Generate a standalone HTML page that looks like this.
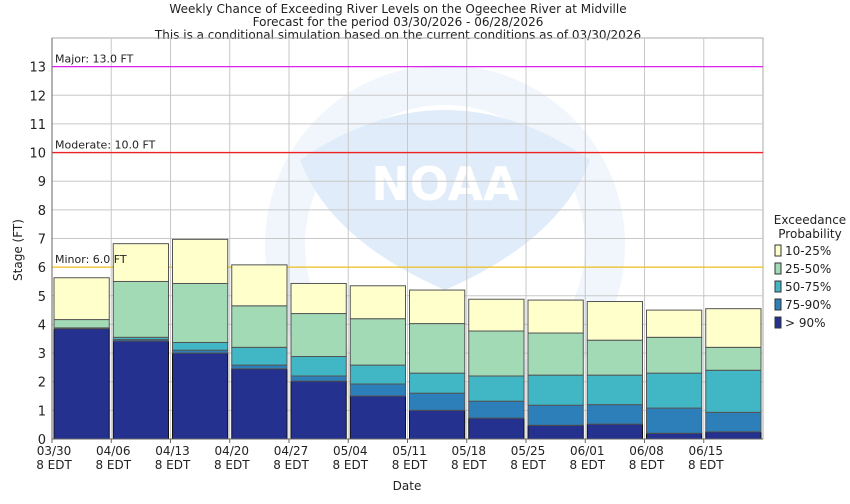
<!DOCTYPE html>
<html><head><meta charset="utf-8"><style>
body{margin:0;background:#fff;font-family:"DejaVu Sans","Liberation Sans",sans-serif}
svg text{font-family:"DejaVu Sans","Liberation Sans",sans-serif;fill:#222}
</style></head><body>
<svg id="c" width="850" height="500">
<g font-size="12" text-anchor="middle">
<text x="398" y="13">Weekly Chance of Exceeding River Levels on the Ogeechee River at Midville</text>
<text x="398" y="26">Forecast for the period 03/30/2026 - 06/28/2026</text>
<text x="398" y="39">This is a conditional simulation based on the current conditions as of 03/30/2026</text>
</g>
<g id="wm" opacity="0.35">
<circle cx="445" cy="245" r="160" fill="none" stroke="#d6e6f7" stroke-width="40"/>
<path d="M300,160 Q445,60 590,160 Q560,240 445,290 Q330,240 300,160Z" fill="#a9c9ef"/>
<text x="445" y="200" text-anchor="middle" font-size="46" font-weight="bold" style="fill:#fff">NOAA</text>
</g>
<g id="grid"></g><g id="bars"></g><g id="axes"></g>
<text transform="translate(22,250) rotate(-90)" text-anchor="middle" font-size="12">Stage (FT)</text>
<text x="407" y="490" text-anchor="middle" font-size="12">Date</text>
<g id="legend" font-size="12"></g>
</svg>
<script>
const dates=["03/30","04/06","04/13","04/20","04/27","05/04","05/11","05/18","05/25","06/01","06/08","06/15"];
const p90=[3.85,3.42,3.0,2.45,2.02,1.5,1.0,0.73,0.48,0.52,0.2,0.25];
const p75=[3.87,3.47,3.1,2.58,2.2,1.92,1.6,1.32,1.18,1.2,1.08,0.93];
const p50=[3.88,3.55,3.37,3.2,2.88,2.58,2.3,2.2,2.23,2.23,2.3,2.4];
const p25=[4.17,5.5,5.43,4.65,4.38,4.2,4.03,3.77,3.7,3.45,3.55,3.2];
const p10=[5.63,6.82,6.97,6.08,5.43,5.35,5.2,4.88,4.85,4.8,4.5,4.55];
const yTicks=[0,1,2,3,4,5,6,7,8,9,10,11,12,13];
const floods=[{v:13,l:"Major: 13.0 FT",c:"#dd22ee"},{v:10,l:"Moderate: 10.0 FT",c:"#ee2222"},{v:6,l:"Minor: 6.0 FT",c:"#f0c020"}];
const NS="http://www.w3.org/2000/svg";
const X0=52,X1=763,Y0=439,YT=38,step=59.25;
const y=v=>Y0-v*(Y0-YT)/14;
const x=i=>X0+i*step;
function mk(t,a,p){const e=document.createElementNS(NS,t);for(const k in a)e.setAttribute(k,a[k]);p.appendChild(e);return e;}
const G=document.getElementById('grid'),B=document.getElementById('bars'),A=document.getElementById('axes'),L=document.getElementById('legend');
mk('rect',{x:X0,y:YT,width:X1-X0,height:Y0-YT,fill:'none',stroke:'#aaa'},G);
yTicks.forEach(t=>{
 const l=mk('line',{x1:X0,x2:X1,y1:y(t),y2:y(t),stroke:'#c8c8c8'},G);
 
 
 const tx=mk('text',{x:X0-6,y:y(t)+5,'text-anchor':'end','font-size':13},A);tx.textContent=t;
 
 
});
dates.forEach((d,i)=>{
 mk('line',{x1:x(i),x2:x(i),y1:YT,y2:Y0,stroke:'#c8c8c8'},G);
 mk('line',{x1:x(i),x2:x(i),y1:Y0,y2:Y0+4,stroke:'#666'},A);
 const t=mk('text',{x:x(i)+2,y:Y0+16,'text-anchor':'middle','font-size':12},A);t.textContent=d;
 
 
 const t2=mk('text',{x:x(i)+2,y:Y0+30,'text-anchor':'middle','font-size':12},A);t2.textContent="8 EDT";
 
 
});
mk('line',{x1:X0,x2:X1,y1:Y0,y2:Y0,stroke:'#666'},A);
mk('line',{x1:X0,x2:X0,y1:YT,y2:Y0,stroke:'#666'},A);
floods.forEach(f=>{
 const l=mk('line',{x1:X0,x2:X1,y1:y(f.v),y2:y(f.v),stroke:f.c,'stroke-width':1.3},G);
 
 
 const t=mk('text',{x:X0+3,y:y(f.v)-4,'font-size':11},A);t.textContent=f.l;
 
 
});
const cols=["#25318f","#2c7fb8","#41b6c4","#a1dab4","#ffffcc"];
const series=[p90,p75,p50,p25,p10];
dates.forEach((d,i)=>{
 let prev=0;
 series.forEach((s,k)=>{
  const top=s[i];
  const r=mk('rect',{x:x(i)+2,y:y(top),width:step-4,height:Math.max(0,y(prev)-y(top)),fill:cols[k],stroke:k==0?'#111':'#555','stroke-width':1},B);
  
  
  prev=top;
 });
});
const lt=[["Exceedance",810,224,"middle"],["Probability",810,238,"middle"]];
lt.forEach(a=>{const t=mk('text',{x:a[1],y:a[2],'text-anchor':a[3]},L);t.textContent=a[0];});
const names=["10-25%","25-50%","50-75%","75-90%","> 90%"];
names.forEach((n,k)=>{
 const yy=250+k*18;
 const r=mk('rect',{x:775,y:yy-5,width:6,height:11,fill:cols[4-k],stroke:'#333'},L);
 
 
 const t=mk('text',{x:785,y:yy+5},L);t.textContent=n;
 
 
});
</script>
</body></html>
